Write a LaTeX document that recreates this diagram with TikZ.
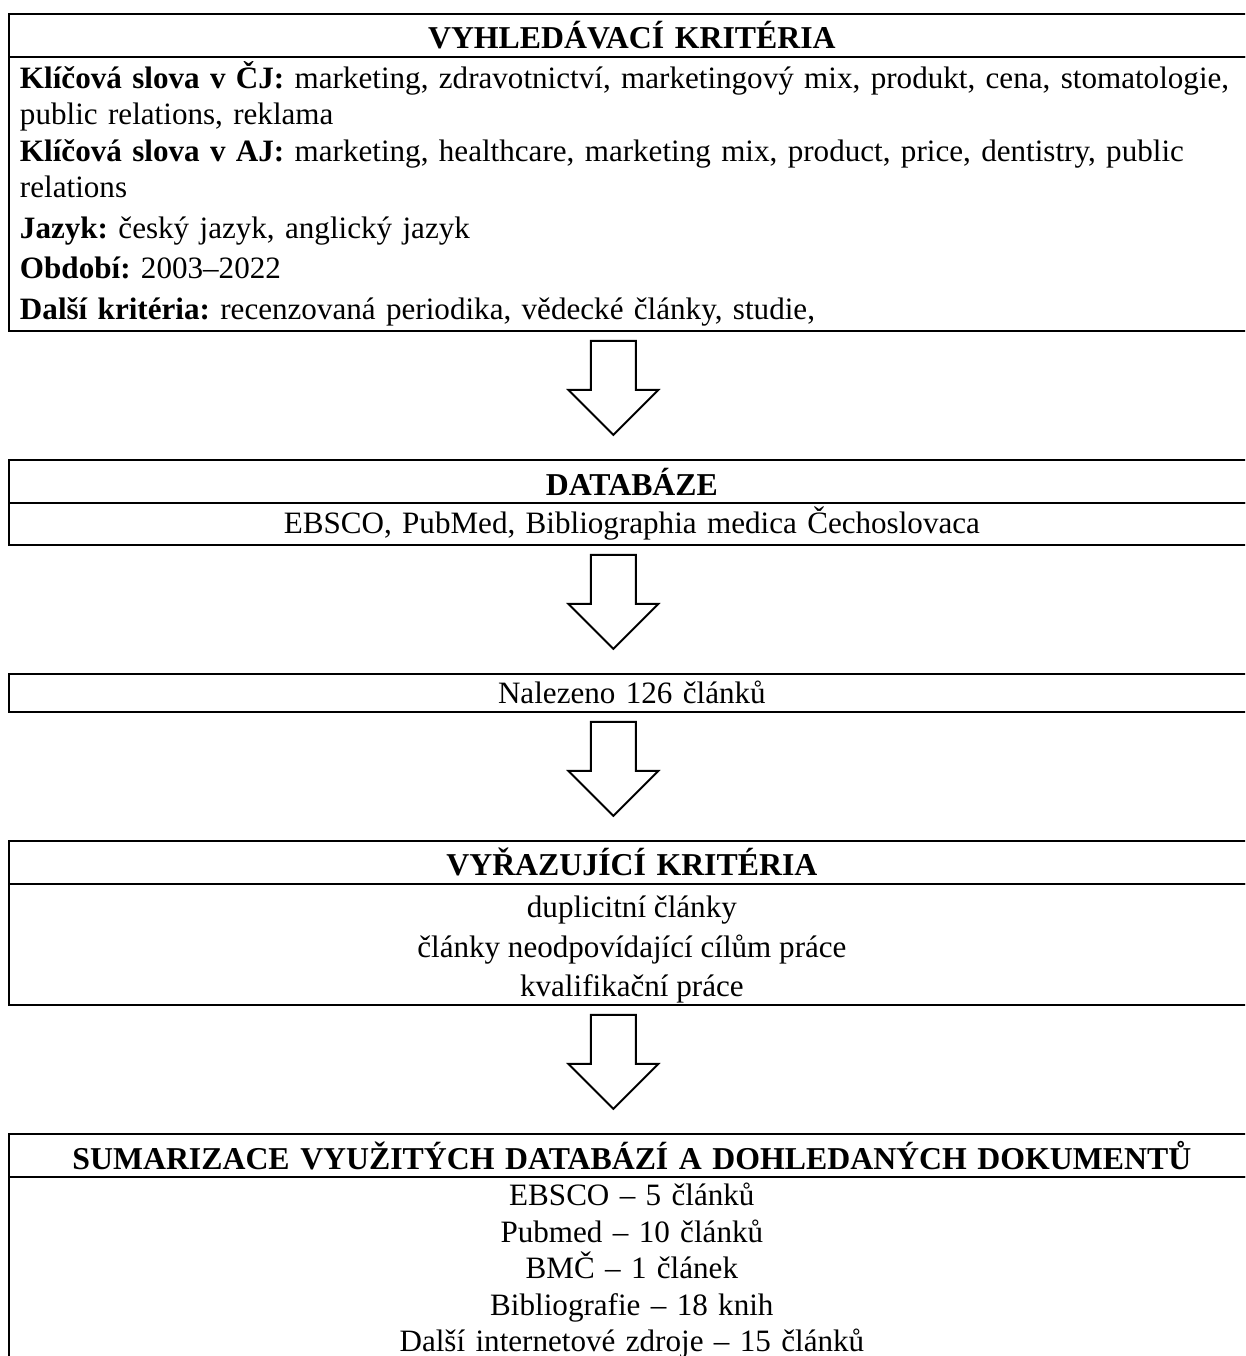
\documentclass[tikz,border=0pt]{standalone}
\usepackage{fontspec}
\setmainfont{Liberation Serif}
\usetikzlibrary{positioning,shapes.arrows}
\frenchspacing

\tikzset{
  box/.style={draw, line width=1.1pt, outer sep=0pt, minimum width=24.92cm,
    text width=24.48cm, inner xsep=0.22cm, inner ysep=0pt,
    font=\fontsize{17.7}{20.7}\selectfont},
  head/.style={box, align=center, minimum height=0.86cm, font=\fontsize{18.1}{20.7}\selectfont\bfseries},
  blockarr/.style={single arrow, draw, line width=1.1pt, shape border rotate=270,
    minimum height=1.88cm, single arrow head extend=0.45cm,
    inner xsep=0.43cm, inner ysep=0pt, outer sep=0pt, anchor=tail}
}

\begin{document}
\begin{tikzpicture}[x=0.02cm,y=-0.02cm]
		\useasboundingbox (0,0) rectangle (1245,1356);
		\clip (0,0) rectangle (1245,1356);

		% Search criteria
		\node[head, anchor=north west] (crith) at (9,14) {VYHLEDÁVACÍ KRITÉRIA};
		\node[box, align=left, minimum height=5.48cm, below=0pt of crith] (critb) {%
			\textbf{Klíčová slova v ČJ:} marketing, zdravotnictví, marketingový mix, produkt, cena, stomatologie,\\
			public relations, reklama\\
			\textbf{Klíčová slova v AJ:} marketing, healthcare, marketing mix, product, price, dentistry, public\\
			relations\\[2.6pt]
			\textbf{Jazyk:} český jazyk, anglický jazyk\\[2.3pt]
			\textbf{Období:} 2003–2022\\[2.6pt]
			\textbf{Další kritéria:} recenzovaná periodika, vědecké články, studie,};
		\node[blockarr] (a1) at ([xshift=-0.37cm,yshift=-0.2cm]critb.south) {};

		% Databases
		\node[head, below=0.5cm of a1.tip -| critb.south] (dbh) {DATABÁZE};
		\node[box, align=center, minimum height=0.84cm, below=0pt of dbh] (dbb) {EBSCO, PubMed, Bibliographia medica Čechoslovaca};
		\node[blockarr] (a2) at ([xshift=-0.37cm,yshift=-0.2cm]dbb.south) {};

		% Found
		\node[box, align=center, minimum height=0.76cm, below=0.5cm of a2.tip -| dbb.south] (found) {Nalezeno 126 článků};
		\node[blockarr] (a3) at ([xshift=-0.37cm,yshift=-0.2cm]found.south) {};

		% Exclusion criteria
		\node[head, below=0.5cm of a3.tip -| found.south] (exh) {VYŘAZUJÍCÍ KRITÉRIA};
		\node[box, minimum height=2.42cm, below=0pt of exh] (exb) {};
		\node[align=center, font=\fontsize{17.7}{20.7}\selectfont] (ext) at ([yshift=-0.1cm]exb.center) {%
			duplicitní články\\[2pt]
			články neodpovídající cílům práce\\[1.2pt]
			kvalifikační práce};
		\node[blockarr] (a4) at ([xshift=-0.37cm,yshift=-0.2cm]exb.south) {};

		% Summary
		\node[head, below=0.5cm of a4.tip -| exb.south] (sumh) {SUMARIZACE VYUŽITÝCH DATABÁZÍ A DOHLEDANÝCH DOKUMENTŮ};
		\node[box, align=center, minimum height=3.76cm, below=0pt of sumh] (sumb) {%
			EBSCO – 5 článků\\
			Pubmed – 10 článků\\
			BMČ – 1 článek\\
			Bibliografie – 18 knih\\
			Další internetové zdroje – 15 článků};
	\end{tikzpicture}
\end{document}
